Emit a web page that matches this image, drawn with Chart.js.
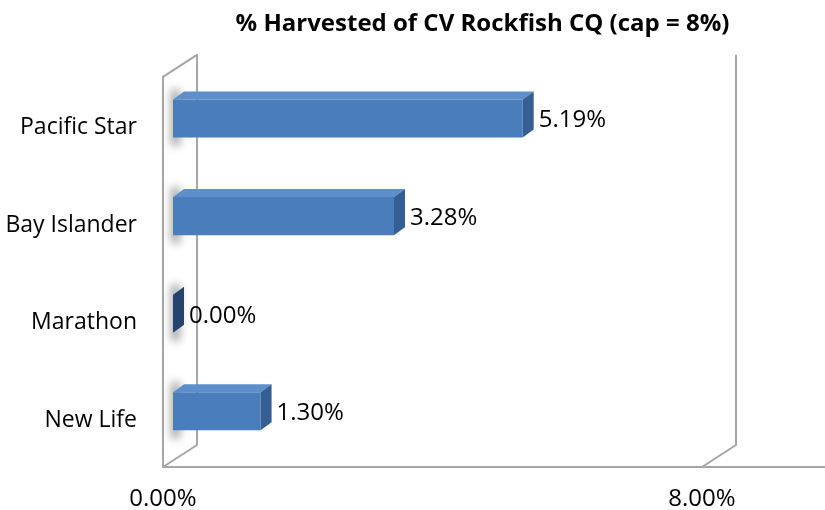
<!DOCTYPE html>
<html>
<head>
<meta charset="utf-8">
<script src="https://cdn.jsdelivr.net/npm/chart.js@4.4.0/dist/chart.umd.min.js"></script>
<style>
  html, body { margin: 0; padding: 0; background: #fff; }
  #wrap { width: 825px; height: 510px; position: relative; }
</style>
</head>
<body>
<div id="wrap"><canvas id="harvestChart"></canvas></div>
<script>
// dados
const vessels = ['Pacific Star', 'Bay Islander', 'Marathon', 'New Life'];
const harvestedPct = [5.19, 3.28, 0.00, 1.30];
const capPct = 8;
const axisTicks = [0, capPct];

const fontFamily = "'Open Sans', 'Liberation Sans', sans-serif";

// profundidade "3D" da barra e das paredes (em px)
const barDepth = { x: 11, y: 8 };
const frontShift = { x: -10, y: 7 };
const backShift = { x: 24, y: -15 };

const fmtPct = v => Number(v).toFixed(2) + '%';

// gradiente leve na face da frente de cada barra
function barFace(context) {
  const bar = context.element;
  if (!bar || bar.height === undefined) return '#4a7dbb';
  const g = context.chart.ctx.createLinearGradient(0, bar.y - bar.height / 2, 0, bar.y + bar.height / 2);
  g.addColorStop(0, '#5287c6');
  g.addColorStop(0.5, '#4b7ebc');
  g.addColorStop(1, '#4474af');
  return g;
}

// paredes, piso e sombras atrás das barras
const wallsPlugin = {
  id: 'walls',
  afterLayout(chart) {
    // centraliza o título como no original (deslocado para a direita)
    if (chart.titleBlock) chart.titleBlock.left = 140;
  },
  beforeDatasetsDraw(chart) {
    const { ctx, chartArea, scales } = chart;
    const x0 = scales.x.getPixelForValue(0);
    const xCap = scales.x.getPixelForValue(capPct);
    const top = chartArea.top, bottom = chartArea.bottom;

    ctx.save();
    ctx.strokeStyle = '#a6a6a6';
    ctx.lineWidth = 2;
    ctx.lineJoin = 'round';

    // parede esquerda
    ctx.beginPath();
    ctx.moveTo(x0 + frontShift.x, bottom + frontShift.y);
    ctx.lineTo(x0 + frontShift.x, top + frontShift.y);
    ctx.lineTo(x0 + backShift.x, top + backShift.y);
    ctx.lineTo(x0 + backShift.x, bottom + backShift.y);
    ctx.closePath();
    ctx.stroke();

    // piso
    ctx.beginPath();
    ctx.moveTo(x0 + frontShift.x, bottom + frontShift.y);
    ctx.lineTo(chart.width, bottom + frontShift.y);
    ctx.stroke();

    // borda direita (8%)
    ctx.beginPath();
    ctx.moveTo(xCap + backShift.x, top + backShift.y);
    ctx.lineTo(xCap + backShift.x, bottom + backShift.y);
    ctx.lineTo(xCap + frontShift.x, bottom + frontShift.y);
    ctx.stroke();

    // sombras na parede
    ctx.filter = 'blur(4px)';
    ctx.fillStyle = 'rgba(0,0,0,0.35)';
    chart.getDatasetMeta(0).data.forEach(bar => {
      const { y, base, height } = bar.getProps(['y', 'base', 'height'], true);
      ctx.fillRect(base - 2, y - height / 2 - 10, 9, height + 18);
    });
    ctx.restore();
  },
  afterDatasetsDraw(chart) {
    const { ctx } = chart;
    ctx.save();
    chart.getDatasetMeta(0).data.forEach((bar, i) => {
      const { x, y, base, height } = bar.getProps(['x', 'y', 'base', 'height'], true);
      const top = y - height / 2, bottom = y + height / 2;

      // face de cima
      ctx.fillStyle = '#5f8fcb';
      ctx.beginPath();
      ctx.moveTo(base, top);
      ctx.lineTo(base + barDepth.x, top - barDepth.y);
      ctx.lineTo(x + barDepth.x, top - barDepth.y);
      ctx.lineTo(x, top);
      ctx.closePath();
      ctx.fill();

      // face lateral
      ctx.fillStyle = harvestedPct[i] === 0 ? '#24446e' : '#355f93';
      ctx.beginPath();
      ctx.moveTo(x, top);
      ctx.lineTo(x + barDepth.x, top - barDepth.y);
      ctx.lineTo(x + barDepth.x, bottom - barDepth.y);
      ctx.lineTo(x, bottom);
      ctx.closePath();
      ctx.fill();

      // rótulo de valor
      ctx.fillStyle = '#000';
      ctx.font = '24px ' + fontFamily;
      ctx.textAlign = 'left';
      ctx.textBaseline = 'middle';
      ctx.fillText(fmtPct(harvestedPct[i]), x + barDepth.x + 5, y + 2);
    });
    ctx.restore();
  }
};

const ctx = document.getElementById('harvestChart').getContext('2d');
const harvestChart = new Chart(ctx, {
  type: 'bar',
  data: {
    labels: vessels,
    datasets: [{
      label: '% Harvested',
      data: harvestedPct,
      backgroundColor: barFace,
      borderWidth: 0,
      categoryPercentage: 1,
      barPercentage: 0.39
    }]
  },
  options: {
    indexAxis: 'y',
    responsive: true,
    maintainAspectRatio: false,
    animation: false,
    layout: { padding: 0 },
    scales: {
      x: {
        min: 0,
        max: capPct,
        afterBuildTicks: scale => { scale.ticks = axisTicks.map(v => ({ value: v })); },
        afterFit: scale => { scale.height = 50; },
        grid: { display: false },
        border: { display: false },
        ticks: {
          padding: 17,
          labelOffset: frontShift.x,
          maxRotation: 0,
          color: '#000',
          font: { family: fontFamily, size: 24 },
          callback: v => fmtPct(v)
        }
      },
      y: {
        afterFit: scale => { scale.width = 173; },
        grid: { display: false },
        border: { display: false },
        ticks: {
          padding: 28,
          labelOffset: 9,
          color: '#000',
          font: { family: fontFamily, size: 23 }
        }
      },
      // eixo vazio só para reservar o espaço à direita
      yRight: {
        position: 'right',
        display: true,
        afterFit: scale => { scale.width = 113; },
        grid: { display: false },
        border: { display: false },
        ticks: { display: false }
      }
    },
    plugins: {
      legend: { display: false },
      tooltip: { enabled: false },
      title: {
        display: true,
        text: '% Harvested of CV Rockfish CQ (cap = 8%)',
        color: '#000',
        font: { family: fontFamily, size: 24, weight: 'bold' },
        padding: { top: 10, bottom: 31 }
      }
    }
  },
  plugins: [wallsPlugin]
});
</script>
</body>
</html>
